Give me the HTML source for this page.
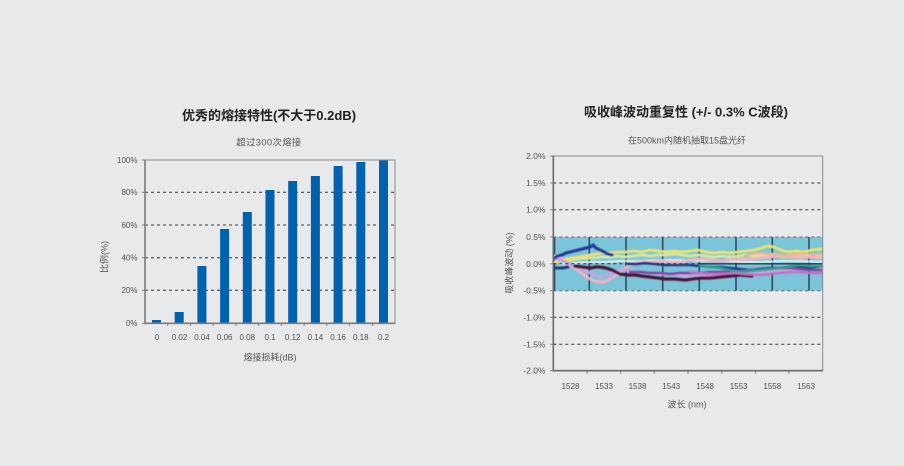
<!DOCTYPE html>
<html><head><meta charset="utf-8"><style>
html,body{margin:0;padding:0;background:#e8e9eb;}
svg{display:block;}
text{font-family:"Liberation Sans","Noto Sans CJK SC",sans-serif;fill:#505050;}
.t{font-weight:bold;fill:#222;font-size:13px;}
.s{font-size:9px;fill:#555;}
.l{font-size:8px;}
.r{font-size:8.5px;}
</style></head><body>
<svg width="904" height="466" viewBox="0 0 904 466" xmlns="http://www.w3.org/2000/svg">
<defs>
<filter id="bl" x="-5%" y="-20%" width="110%" height="140%"><feGaussianBlur stdDeviation="0.45"/></filter>
<clipPath id="band"><rect x="554" y="237" width="268.5" height="53.7"/></clipPath>
</defs>
<rect width="904" height="466" fill="#e8e9eb"/>

<!-- LEFT CHART -->
<text class="t" x="269" y="120" text-anchor="middle">优秀的熔接特性(不大于0.2dB)</text>
<text class="s" x="269" y="145.4" text-anchor="middle" style="font-size:9.3px;letter-spacing:0.4px">超过300次熔接</text>

<g stroke="#333" stroke-width="1" stroke-dasharray="3 3">
<line x1="145" y1="192.3" x2="395" y2="192.3"/>
<line x1="145" y1="225" x2="395" y2="225" stroke="#777" stroke-width="1.4"/>
<line x1="145" y1="257.7" x2="395" y2="257.7"/>
<line x1="145" y1="290.3" x2="395" y2="290.3"/>
</g>
<g fill="#0062af">
<rect x="152" y="320" width="9" height="3.3"/>
<rect x="174.7" y="312" width="9" height="11.3"/>
<rect x="197.4" y="266" width="9" height="57.3"/>
<rect x="220.1" y="229" width="9" height="94.3"/>
<rect x="242.8" y="212" width="9" height="111.3"/>
<rect x="265.5" y="190" width="9" height="133.3"/>
<rect x="288.2" y="181" width="9" height="142.3"/>
<rect x="310.9" y="176" width="9" height="147.3"/>
<rect x="333.6" y="166" width="9" height="157.3"/>
<rect x="356.3" y="162" width="9" height="161.3"/>
<rect x="379" y="159.5" width="9" height="163.8"/>
</g>
<rect x="145" y="160" width="250" height="163.3" fill="none" stroke="#8a8a8a" stroke-width="1"/>
<line x1="145" y1="159.5" x2="145" y2="324" stroke="#7a7a7a" stroke-width="1.6"/>
<line x1="144.5" y1="323.3" x2="395.5" y2="323.3" stroke="#7a7a7a" stroke-width="1.6"/>
<g stroke="#7a7a7a" stroke-width="1">
<line x1="142" y1="160" x2="145" y2="160"/><line x1="142" y1="192.3" x2="145" y2="192.3"/>
<line x1="142" y1="225" x2="145" y2="225"/><line x1="142" y1="257.7" x2="145" y2="257.7"/>
<line x1="142" y1="290.3" x2="145" y2="290.3"/><line x1="142" y1="323.3" x2="145" y2="323.3"/>
<line x1="167.7" y1="323" x2="167.7" y2="326"/><line x1="190.5" y1="323" x2="190.5" y2="326"/>
<line x1="213.2" y1="323" x2="213.2" y2="326"/><line x1="235.9" y1="323" x2="235.9" y2="326"/>
<line x1="258.6" y1="323" x2="258.6" y2="326"/><line x1="281.4" y1="323" x2="281.4" y2="326"/>
<line x1="304.1" y1="323" x2="304.1" y2="326"/><line x1="326.8" y1="323" x2="326.8" y2="326"/>
<line x1="349.5" y1="323" x2="349.5" y2="326"/><line x1="372.3" y1="323" x2="372.3" y2="326"/>
</g>
<g class="l" text-anchor="end">
<text x="137.5" y="162.9">100%</text>
<text x="137.5" y="195.2">80%</text>
<text x="137.5" y="227.9">60%</text>
<text x="137.5" y="260.6">40%</text>
<text x="137.5" y="293.2">20%</text>
<text x="137.5" y="326.2">0%</text>
</g>
<g class="l" text-anchor="middle">
<text x="157" y="340.2">0</text>
<text x="179.5" y="340.2">0.02</text>
<text x="202" y="340.2">0.04</text>
<text x="224.7" y="340.2">0.06</text>
<text x="247.3" y="340.2">0.08</text>
<text x="270" y="340.2">0.1</text>
<text x="292.7" y="340.2">0.12</text>
<text x="315.4" y="340.2">0.14</text>
<text x="338.1" y="340.2">0.16</text>
<text x="360.8" y="340.2">0.18</text>
<text x="383.5" y="340.2">0.2</text>
</g>
<text class="s" x="270" y="360.7" text-anchor="middle">熔接损耗(dB)</text>
<text class="s" x="0" y="0" text-anchor="middle" transform="translate(107.4,257) rotate(-90)">比例(%)</text>

<!-- RIGHT CHART -->
<text class="t" x="686" y="116.7" text-anchor="middle">吸收峰波动重复性 (+/- 0.3% C波段)</text>
<text class="s" x="687" y="143.4" text-anchor="middle">在500km内随机抽取15盘光纤</text>

<rect x="553.5" y="237" width="269" height="53.7" fill="#7cc4d9"/>
<g stroke="#2e4c5c" stroke-width="1.6">
<line x1="554.5" y1="237" x2="554.5" y2="290.7"/>
<line x1="589.3" y1="237" x2="589.3" y2="290.7"/>
<line x1="626" y1="237" x2="626" y2="290.7"/>
<line x1="662.7" y1="237" x2="662.7" y2="290.7"/>
<line x1="699.3" y1="237" x2="699.3" y2="290.7"/>
<line x1="736" y1="237" x2="736" y2="290.7"/>
<line x1="772.3" y1="237" x2="772.3" y2="290.7"/>
<line x1="809" y1="237" x2="809" y2="290.7"/>
</g>
<g clip-path="url(#band)">
<g fill="none" stroke-linejoin="round" stroke-linecap="round" stroke-width="2.8" filter="url(#bl)">
<polyline stroke="#d6e8a4" points="554,262 562,261 570,260 578,259 586,258 594,258 602,257 610,257 618,256 626,257 634,256 642,255 650,256 658,255 666,255 674,254 682,255 690,256 698,255 706,256 714,257 722,256 730,257 738,256 746,255 754,256 762,255 770,254 778,256 786,257 794,256 802,257 810,255 822,256"/>
<polyline stroke="#ece36a" points="554,262 560,261 566,259 572,258 578,257 584,256 590,255 596,254 602,253 610,253 618,252 626,252 634,251 642,252 650,250 658,251 666,252 674,251 682,252 690,251 698,250 706,252 714,253 722,252 730,253 738,252 746,251 754,250 762,248 768,246 774,247 780,250 788,252 796,251 804,252 812,250 822,249"/>
<polyline stroke="#eef4f0" stroke-width="1.8" points="560,264 575,263 590,262 605,262 620,261 640,261 660,260 680,260 700,261 720,261 740,262 760,262 780,261 800,261 822,262"/>
<polyline stroke="#f0b4c2" stroke-width="3" points="554,256 558,257 562,259 566,262 570,265 575,268 580,272 585,276 590,279 595,281 600,282 605,282 610,279 615,276 620,272 625,268 630,265 635,263 642,262 650,262 660,261 670,262 680,262 690,260 700,259 710,260 720,261 730,260 740,259 750,259 760,258 770,257 780,255 790,257 800,258 810,257 822,258"/>
<polyline stroke="#f4b48e" stroke-width="2.4" points="745,256 752,254 760,253 768,254 775,254 782,256 790,255 798,254 805,253 813,255 822,254"/>
<polyline stroke="#c9a2e2" stroke-width="3" points="554,258 560,260 565,262 572,265 578,268 584,270 590,273 595,275 600,277 605,276 610,274 615,272 620,270 625,270 630,271 640,272 650,273 660,274 670,274 680,275 690,276 700,276 710,276 720,275 730,274 740,273 750,272 760,272 770,271 780,270 790,271 800,270 810,269 822,268"/>
<polyline stroke="#203a9a" stroke-width="3.2" points="554,258 558,256 562,255 566,253 570,252 574,251 578,250 582,249 586,248 590,247 593,245 596,248 600,250 604,252 608,254 612,255"/>
<polyline stroke="#1e3a8a" stroke-width="2.6" points="628,264 636,264 645,263 655,264 665,265 675,265 690,265 700,266 710,267 720,267 730,268 740,269 750,270 760,269 770,268 780,268 790,267 800,267 810,268 822,266"/>
<polyline stroke="#4a1438" stroke-width="3.2" points="575,266 582,267 590,268 596,267 600,267 606,268 612,270 616,272 620,274 628,275 635,275 642,276 650,277 658,278 665,279 675,279 685,280 692,279 700,278 710,278 720,277 730,276 740,275 752,276"/>
<polyline stroke="#7a4aa0" stroke-width="2.6" points="630,272 640,272 650,273 660,273 670,274 680,273 690,273 700,273 710,272 720,272 730,271 740,271 750,270 760,270 770,269 780,268 790,268 800,269 810,270 822,270"/>
<polyline stroke="#20306c" stroke-width="2.8" points="554,268 558,268 563,268 568,267"/>
<polyline stroke="#2aa08e" stroke-width="2.4" points="700,266 710,267 720,268 730,270 740,272 750,271 760,270 770,269 780,268 790,266 800,265 810,266 822,266"/>
<polyline stroke="#c070c8" stroke-width="2.4" points="690,272 700,273 710,274 720,274 735,273 745,274 760,275 770,274 780,273 790,272 800,272 810,273 822,273"/>
</g>
</g>
<line x1="700" y1="263.8" x2="822" y2="263.8" stroke="#2a3a4a" stroke-width="1.4"/>

<g stroke="#333" stroke-width="1" stroke-dasharray="3 3">
<line x1="553.3" y1="183" x2="822.7" y2="183"/>
<line x1="553.3" y1="209.7" x2="822.7" y2="209.7"/>
<line x1="553.3" y1="237" x2="822.7" y2="237" stroke="#666"/>
<line x1="553.3" y1="263.8" x2="700" y2="263.8"/>
<line x1="553.3" y1="290.7" x2="822.7" y2="290.7" stroke="#666"/>
<line x1="553.3" y1="317.3" x2="822.7" y2="317.3"/>
<line x1="553.3" y1="344.3" x2="822.7" y2="344.3"/>
</g>
<rect x="553.3" y="156" width="269.4" height="214.7" fill="none" stroke="#8a8a8a" stroke-width="1"/>
<line x1="553.3" y1="155.5" x2="553.3" y2="371.5" stroke="#6a6a6a" stroke-width="1.6"/>
<line x1="552.8" y1="370.7" x2="823" y2="370.7" stroke="#6a6a6a" stroke-width="1.6"/>
<g stroke="#7a7a7a" stroke-width="1">
<line x1="550.3" y1="156" x2="553.3" y2="156"/><line x1="550.3" y1="183" x2="553.3" y2="183"/>
<line x1="550.3" y1="209.7" x2="553.3" y2="209.7"/><line x1="550.3" y1="237" x2="553.3" y2="237"/>
<line x1="550.3" y1="263.8" x2="553.3" y2="263.8"/><line x1="550.3" y1="290.7" x2="553.3" y2="290.7"/>
<line x1="550.3" y1="317.3" x2="553.3" y2="317.3"/><line x1="550.3" y1="344.3" x2="553.3" y2="344.3"/>
<line x1="550.3" y1="370.7" x2="553.3" y2="370.7"/>
<line x1="587" y1="370.7" x2="587" y2="373.7"/><line x1="620.7" y1="370.7" x2="620.7" y2="373.7"/>
<line x1="654.3" y1="370.7" x2="654.3" y2="373.7"/><line x1="688" y1="370.7" x2="688" y2="373.7"/>
<line x1="721.8" y1="370.7" x2="721.8" y2="373.7"/><line x1="755.5" y1="370.7" x2="755.5" y2="373.7"/>
<line x1="789" y1="370.7" x2="789" y2="373.7"/>
</g>
<g class="r" text-anchor="end">
<text x="545.5" y="159">2.0%</text>
<text x="545.5" y="186">1.5%</text>
<text x="545.5" y="212.7">1.0%</text>
<text x="545.5" y="240">0.5%</text>
<text x="545.5" y="266.8">0.0%</text>
<text x="545.5" y="293.7">-0.5%</text>
<text x="545.5" y="320.3">-1.0%</text>
<text x="545.5" y="347.3">-1.5%</text>
<text x="545.5" y="373.7">-2.0%</text>
</g>
<g class="l" text-anchor="middle">
<text x="570.5" y="389">1528</text>
<text x="604" y="389">1533</text>
<text x="637.5" y="389">1538</text>
<text x="671.2" y="389">1543</text>
<text x="705" y="389">1548</text>
<text x="738.6" y="389">1553</text>
<text x="772.3" y="389">1558</text>
<text x="806" y="389">1563</text>
</g>
<text class="s" x="687" y="407.4" text-anchor="middle">波长 (nm)</text>
<text class="s" x="0" y="0" text-anchor="middle" transform="translate(512.5,263) rotate(-90)">吸收峰波动 (%)</text>
</svg>
</body></html>
